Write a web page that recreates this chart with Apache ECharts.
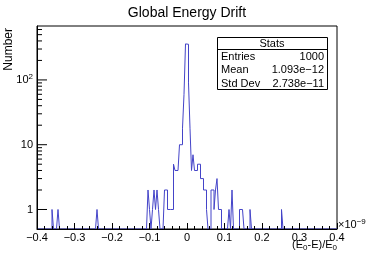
<!DOCTYPE html>
<html><head><meta charset="utf-8">
<script src="https://cdn.jsdelivr.net/npm/echarts@6/dist/echarts.min.js"></script>
<style>html,body{margin:0;padding:0;background:#fff}#c{width:374px;height:255px}</style>
</head><body><div id="c"></div>
<script>
// ---- data ----
const chartTitle = 'Global Energy Drift';
const xMin = -0.4, xMax = 0.4, nBins = 200;          // x in units of 1e-9
const yMin = 0.5, yMax = 680;
const xTicks = [-0.4, -0.3, -0.2, -0.1, 0, 0.1, 0.2, 0.3, 0.4];
const yMajorTicks = [1, 10, 100];
const yMinorTicks = [2, 3, 4, 5, 6, 7, 8, 9, 20, 30, 40, 50, 60, 70, 80, 90, 200, 300, 400, 500, 600];
// non-empty bins (index of bin) and their counts
const filledBins   = [10, 14, 40, 74, 75, 77, 78, 79, 80, 81, 85, 86, 87, 88, 89, 90, 91, 92, 93, 94, 95, 96, 97, 98, 99, 100, 101, 102, 103, 104, 105, 106, 107, 108, 109, 110, 111, 112, 113, 116, 117, 118, 119, 120, 121, 122, 128, 130, 135, 136, 137, 142, 163];
const filledCounts = [1, 1, 1, 2, 1, 1, 2, 1, 2, 1, 2, 2, 1, 1, 1, 1, 5, 4, 4, 4, 10, 10, 18, 60, 360, 355, 90, 18, 4, 7, 4, 4, 5, 5, 3, 3, 2, 2, 1, 2, 2, 1, 2, 3, 1, 1, 1, 2, 1, 1, 1, 1, 1];
const statsNames  = ['Entries', 'Mean', 'Std Dev'];
const statsValues = ['1000', '1.093e\u221212', '2.738e\u221211'];

// ---- build histogram outline ----
const counts = new Array(nBins).fill(0);
filledBins.forEach((b, i) => { counts[b] = filledCounts[i]; });
const bw = (xMax - xMin) / nBins;
const outline = [];
for (let i = 0; i < nBins; i++) outline.push([xMin + i * bw, Math.max(counts[i], yMin)]);
outline.push([xMax, Math.max(counts[nBins - 1], yMin)]);

const yTickData = yMajorTicks.map(v => [xMin, v, 1]).concat(yMinorTicks.map(v => [xMin, v, 0]));

const FONT = 'Liberation Sans';
const chart = echarts.init(document.getElementById('c'), null, { renderer: 'canvas' });
chart.setOption({
  animation: false,
  backgroundColor: '#fff',
  title: { text: chartTitle, left: 'center', top: 1,
    textStyle: { fontFamily: FONT, fontSize: 14, fontWeight: 'normal', color: '#000' } },
  grid: { left: 37, right: 37, top: 26, bottom: 26, show: true, borderColor: '#000', borderWidth: 1, backgroundColor: 'transparent' },
  xAxis: {
    type: 'value', min: xMin, max: xMax, interval: 0.1, z: 10,
    axisLine: { onZero: false, lineStyle: { color: '#000', width: 1 } },
    axisTick: { inside: true, length: 6, lineStyle: { color: '#000' } },
    minorTick: { show: true, splitNumber: 5, length: 3, lineStyle: { color: '#000' } },
    splitLine: { show: false }, minorSplitLine: { show: false },
    axisLabel: { fontFamily: FONT, fontSize: 11, color: '#000', margin: 3,
      formatter: v => { const r = Math.round(v * 10) / 10; return r === 0 ? '0' : (r < 0 ? '\u2212' : '') + Math.abs(r).toFixed(1); } }
  },
  yAxis: {
    type: 'log', logBase: 10, min: yMin, max: yMax, z: 10,
    axisLine: { onZero: false, lineStyle: { color: '#000', width: 1 } },
    axisTick: { show: false }, splitLine: { show: false },
    axisLabel: { fontFamily: FONT, fontSize: 11, color: '#000', margin: 4, showMinLabel: false, showMaxLabel: false,
      formatter: v => { const r = Math.round(Math.log10(v) * 1000) / 1000;
        if (r === 0) return '1'; if (r === 1) return '10'; if (r === 2) return '{b|10}{s|2}'; return ''; },
      rich: { b: { fontFamily: FONT, fontSize: 11, color: '#000' }, s: { fontFamily: FONT, fontSize: 8, color: '#000', padding: [0, 0, 7, 0] } } }
  },
  series: [
    { type: 'line', data: outline, step: 'end', symbol: 'none', clip: true,
      lineStyle: { color: '#4444c8', width: 1 }, z: 2 },
    { type: 'custom', data: yTickData, z: 11, silent: true,
      renderItem: (params, api) => {
        const p = api.coord([api.value(0), api.value(1)]);
        const len = api.value(2) ? 10 : 5;
        return { type: 'line', shape: { x1: p[0], y1: p[1], x2: p[0] + len, y2: p[1] }, style: { stroke: '#000', lineWidth: 1 } };
      } }
  ],
  graphic: [
    { type: 'text', right: 374 - 337, top: 239, style: { text: '(E{s|0}-E)/E{s|0}', fontFamily: FONT, fontSize: 11, fill: '#000',
        rich: { s: { fontFamily: FONT, fontSize: 8, fill: '#000', padding: [6, 0, 0, 0] } } } },
    { type: 'text', left: 338, top: 218, style: { text: '\u00d710{s|\u22129}', fontFamily: FONT, fontSize: 11, fill: '#000',
        rich: { s: { fontFamily: FONT, fontSize: 8, fill: '#000', padding: [0, 0, 6, 0] } } } },
    { type: 'text', rotation: Math.PI / 2, x: 3, y: 28, style: { text: 'Number', fontFamily: FONT, fontSize: 12, fill: '#000', align: 'right', verticalAlign: 'top' } },
    { type: 'group', left: 215, top: 37, children: [
      { type: 'rect', shape: { x: 0.5, y: 0.5, width: 110, height: 52 }, style: { fill: '#fff', stroke: '#000', lineWidth: 1 } },
      { type: 'line', shape: { x1: 0.5, y1: 12.5, x2: 110.5, y2: 12.5 }, style: { stroke: '#000', lineWidth: 1 } },
      { type: 'text', x: 55, y: 6.5, style: { text: 'Stats', fontFamily: FONT, fontSize: 11, fill: '#000', align: 'center', verticalAlign: 'middle' } },
      { type: 'text', x: 4, y: 19.5, style: { text: statsNames[0], fontFamily: FONT, fontSize: 11, fill: '#000', align: 'left', verticalAlign: 'middle' } },
      { type: 'text', x: 107, y: 19.5, style: { text: statsValues[0], fontFamily: FONT, fontSize: 11, fill: '#000', align: 'right', verticalAlign: 'middle' } },
      { type: 'text', x: 4, y: 33, style: { text: statsNames[1], fontFamily: FONT, fontSize: 11, fill: '#000', align: 'left', verticalAlign: 'middle' } },
      { type: 'text', x: 107, y: 33, style: { text: statsValues[1], fontFamily: FONT, fontSize: 11, fill: '#000', align: 'right', verticalAlign: 'middle' } },
      { type: 'text', x: 4, y: 46.5, style: { text: statsNames[2], fontFamily: FONT, fontSize: 11, fill: '#000', align: 'left', verticalAlign: 'middle' } },
      { type: 'text', x: 107, y: 46.5, style: { text: statsValues[2], fontFamily: FONT, fontSize: 11, fill: '#000', align: 'right', verticalAlign: 'middle' } }
    ] }
  ]
});
</script></body></html>
